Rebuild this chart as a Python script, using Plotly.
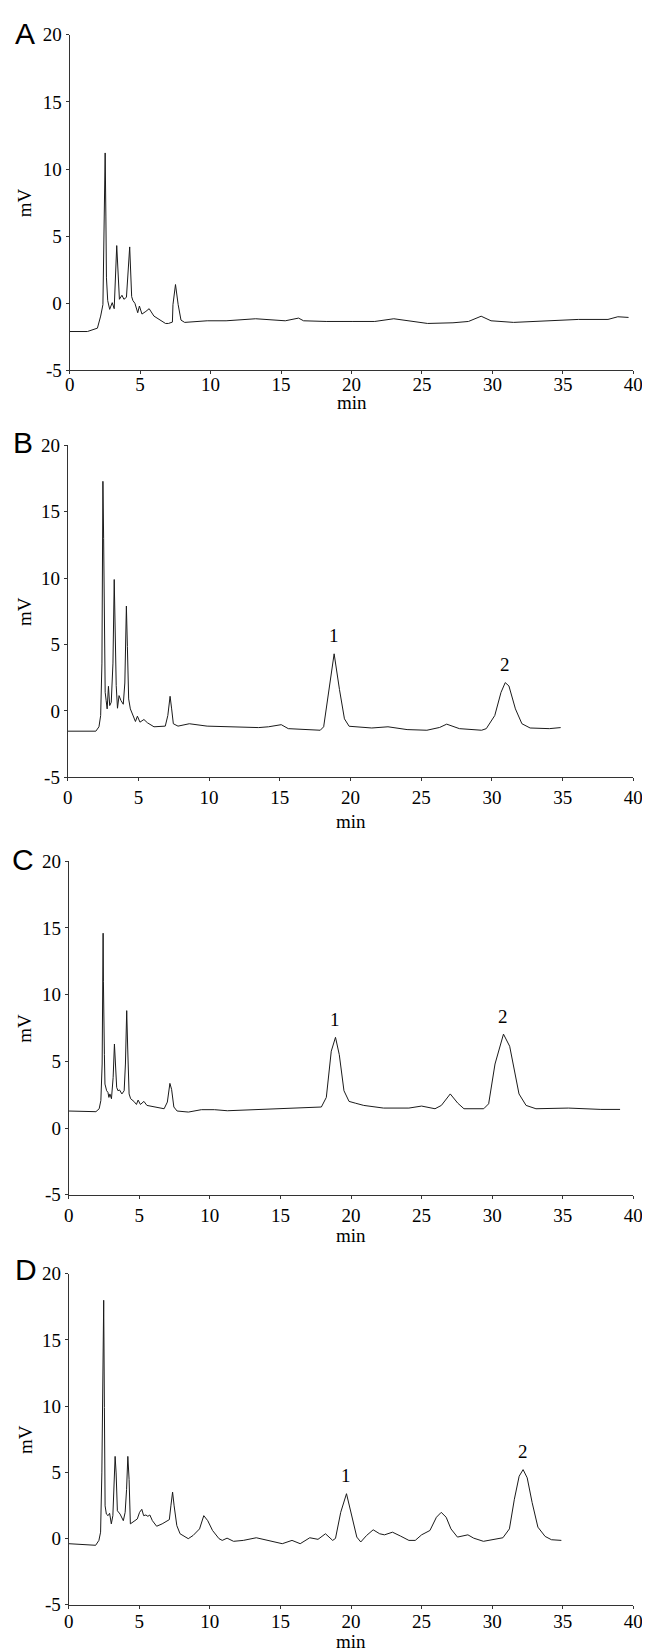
import numpy as np
import plotly.graph_objects as go

# ---------------- data ----------------
# Panel A
time_a = [0.0, 1.26, 1.97, 2.2, 2.36, 2.43, 2.52, 2.57, 2.61, 2.70, 2.84, 3.02, 3.16, 3.34, 3.46, 3.53,
          3.71, 3.85, 4.03, 4.26, 4.40, 4.49, 4.63, 4.83, 4.95, 5.13, 5.41, 5.64, 5.98, 6.32, 6.8, 7.01,
          7.29, 7.33, 7.51, 7.7, 7.9, 8.16, 9.76, 11.1, 13.2, 15.3, 16.24, 16.6, 18.2, 20.1, 21.65, 23.0,
          24.2, 25.4, 27.2, 28.3, 29.2, 29.9, 31.5, 33.8, 36.1, 38.2, 38.9, 39.66]
mv_a = [-2.1, -2.1, -1.85, -0.95, -0.1, 4.0, 11.2, 6.5, 1.9, 0.2, -0.45, 0.05, -0.4, 4.3, 0.9, 0.3,
        0.6, 0.3, 0.45, 4.2, 0.5, 0.2, 0.0, -0.7, -0.2, -0.8, -0.6, -0.4, -0.95, -1.2, -1.5, -1.5,
        -1.4, -0.1, 1.4, -0.1, -1.25, -1.42, -1.3, -1.3, -1.15, -1.3, -1.1, -1.3, -1.35, -1.35, -1.35, -1.15,
        -1.3, -1.5, -1.45, -1.35, -0.96, -1.3, -1.42, -1.3, -1.2, -1.2, -1.0, -1.05]

# Panel B
time_b = [0.0, 1.99, 2.21, 2.33, 2.42, 2.49, 2.54, 2.58, 2.65, 2.72, 2.79, 2.88, 2.97, 3.08, 3.2, 3.29,
          3.35, 3.43, 3.52, 3.63, 3.77, 3.93, 4.04, 4.15, 4.22, 4.31, 4.43, 4.61, 4.79, 4.93, 5.11, 5.39,
          5.64, 6.1, 6.9, 7.08, 7.24, 7.35, 7.47, 7.8, 8.6, 9.86, 11.23, 13.5, 14.2, 15.1, 15.6, 16.9,
          17.86, 18.1, 18.42, 18.84, 19.22, 19.57, 19.9, 21.5, 22.65, 24.0, 25.4, 26.3, 26.8, 27.7,
          29.27, 29.6, 30.2, 30.64, 30.94, 31.2, 31.66, 32.12, 32.7, 34.06, 34.86]
mv_b = [-1.53, -1.53, -1.2, -0.35, 3.6, 17.3, 13.0, 5.6, 1.4, 0.77, 0.15, 1.85, 0.4, 0.65, 3.6, 9.9,
        5.6, 1.9, 0.2, 1.15, 0.77, 0.5, 2.1, 7.9, 4.85, 0.9, 0.15, -0.35, -0.8, -0.4, -0.85, -0.65,
        -0.9, -1.2, -1.15, -0.35, 1.1, 0.15, -0.97, -1.15, -0.97, -1.15, -1.2, -1.26, -1.2, -1.04, -1.34, -1.39,
        -1.46, -1.2, 1.14, 4.3, 1.6, -0.6, -1.16, -1.29, -1.2, -1.41, -1.46, -1.25, -1.0, -1.34,
        -1.46, -1.34, -0.35, 1.39, 2.13, 1.88, 0.15, -0.97, -1.29, -1.34, -1.26]

# Panel C
time_c = [0.0, 1.93, 2.16, 2.28, 2.37, 2.44, 2.46, 2.53, 2.57, 2.69, 2.78, 2.85, 2.92, 3.03, 3.15, 3.24,
          3.31, 3.4, 3.49, 3.6, 3.77, 3.93, 4.02, 4.11, 4.18, 4.28, 4.39, 4.62, 4.8, 4.92, 5.08, 5.33,
          5.54, 6.18, 6.76, 6.99, 7.17, 7.29, 7.45, 7.68, 8.48, 9.4, 10.32, 11.24, 14.7, 17.0, 17.9,
          18.25, 18.6, 18.9, 19.17, 19.5, 19.86, 20.3, 20.9, 22.3, 24.1, 25.0, 25.95, 26.4, 27.03, 27.56,
          28.0, 29.4, 29.75, 30.2, 30.8, 31.24, 31.6, 31.9, 32.4, 33.1, 35.4, 37.7, 39.06]
mv_c = [1.28, 1.23, 1.45, 2.07, 4.8, 14.6, 11.0, 5.5, 3.3, 2.8, 2.68, 2.3, 2.56, 2.2, 3.8, 6.3,
        4.8, 3.05, 2.8, 2.86, 2.56, 2.8, 4.8, 8.8, 6.0, 2.56, 2.2, 2.0, 1.77, 2.1, 1.77, 2.0,
        1.7, 1.58, 1.45, 1.95, 3.35, 2.9, 1.58, 1.28, 1.2, 1.38, 1.38, 1.3, 1.45, 1.53, 1.58,
        2.3, 5.76, 6.8, 5.5, 2.8, 2.0, 1.87, 1.7, 1.5, 1.5, 1.65, 1.45, 1.7, 2.56, 1.87,
        1.45, 1.45, 1.82, 4.8, 7.04, 6.13, 4.3, 2.56, 1.7, 1.45, 1.5, 1.4, 1.4]

# Panel D
time_d = [0.0, 1.91, 2.14, 2.26, 2.35, 2.42, 2.48, 2.53, 2.58, 2.67, 2.79, 2.9, 3.02, 3.13, 3.22, 3.29,
          3.36, 3.45, 3.64, 3.87, 4.0, 4.1, 4.19, 4.28, 4.37, 4.56, 4.86, 5.02, 5.18, 5.31, 5.47, 5.61,
          5.75, 5.93, 6.23, 6.62, 7.13, 7.24, 7.36, 7.47, 7.66, 7.89, 8.12, 8.47, 8.81, 9.27, 9.57, 9.85,
          10.19, 10.65, 10.88, 11.22, 11.68, 12.37, 13.29, 14.2, 15.13, 15.82, 16.4, 17.08, 17.66, 18.19,
          18.7, 18.9, 19.27, 19.68, 20.07, 20.41, 20.69, 21.1, 21.57, 22.03, 22.37, 22.94, 23.52, 24.1,
          24.55, 25.0, 25.59, 26.05, 26.39, 26.74, 27.08, 27.54, 28.28, 28.69, 29.38, 30.76, 31.22, 31.57,
          31.91, 32.19, 32.48, 32.83, 33.24, 33.75, 34.2, 34.9]
mv_d = [-0.4, -0.52, -0.15, 0.47, 4.95, 14.9, 18.0, 9.9, 2.46, 1.84, 1.72, 1.9, 1.1, 1.72, 4.95, 6.2,
        4.95, 2.09, 1.84, 1.34, 1.97, 3.7, 6.2, 4.45, 1.1, 1.22, 1.47, 1.97, 2.2, 1.72, 1.77, 1.67,
        1.77, 1.34, 0.92, 1.1, 1.42, 2.46, 3.5, 2.46, 0.97, 0.35, 0.22, -0.02, 0.22, 0.72, 1.72, 1.34,
        0.6, -0.02, -0.15, 0.02, -0.22, -0.15, 0.05, -0.15, -0.4, -0.15, -0.4, 0.05, -0.07, 0.35,
        -0.15, 0.0, 1.97, 3.38, 1.72, 0.1, -0.27, 0.22, 0.65, 0.35, 0.27, 0.47, 0.17, -0.15,
        -0.15, 0.27, 0.6, 1.6, 1.97, 1.6, 0.72, 0.1, 0.27, 0.02, -0.22, 0.05, 0.72, 2.96,
        4.7, 5.2, 4.58, 2.71, 0.85, 0.15, -0.1, -0.15]

panel_letters = ["A", "B", "C", "D"]
series = [(time_a, mv_a), (time_b, mv_b), (time_c, mv_c), (time_d, mv_d)]
peak_labels = [[], [("1", 18.84), ("2", 30.94)], [("1", 18.9), ("2", 30.8)], [("1", 19.68), ("2", 32.19)]]
x_ticks = [0, 5, 10, 15, 20, 25, 30, 35, 40]
x_tick_text = ["0", "5", "10", "15", "20", "25", "30", "35", "40"]
y_ticks = [-5, 0, 5, 10, 15, 20]
y_tick_text = ["-5", "0", "5", "10", "15", "20"]

# ---------------- layout geometry (pixels) ----------------
W, H = 650, 1651
# (x_left, x_right, y_top, y_bottom) of each plot area in pixels
boxes = [(58, 635, 17, 357), (56, 635, 433, 769), (57, 635, 854, 1192), (57, 635, 1272, 1607)]
letter_pos = [(12, 16), (10, 430), (10, 852), (13, 1268)]
min_y = [389, 814, 1233, 1644]
xlabel_standoff = [-6, 0, 0, -3]

SERIF = "Liberation Serif"
SANS = "Liberation Sans"

fig = go.Figure()
annotations = []
for i, ((t, v), (xl, xr, yt, yb)) in enumerate(zip(series, boxes)):
    n = i + 1
    xa = "x" if n == 1 else f"x{n}"
    ya = "y" if n == 1 else f"y{n}"
    fig.add_trace(go.Scatter(x=t, y=v, mode="lines", line=dict(color="#1a1a1a", width=1),
                             xaxis=xa, yaxis=ya, showlegend=False, hoverinfo="skip"))
    axis_common = dict(showline=True, linecolor="#333333", linewidth=1, showgrid=False, zeroline=False,
                       ticks="outside", ticklen=3, tickwidth=1, tickcolor="#333333",
                       tickfont=dict(family=SERIF, size=19, color="black"))
    fig.update_layout(**{
        ("xaxis" if n == 1 else f"xaxis{n}"): dict(
            domain=[xl / W, xr / W], anchor=ya, range=[0, 40], tickvals=x_ticks, ticktext=x_tick_text,
            ticklabelstandoff=xlabel_standoff[i], **axis_common),
        ("yaxis" if n == 1 else f"yaxis{n}"): dict(
            domain=[1 - yb / H, 1 - yt / H], anchor=xa, range=[-5, 20], tickvals=y_ticks,
            ticktext=y_tick_text, **axis_common),
    })
    # panel letter
    lx, ly = letter_pos[i]
    annotations.append(dict(x=lx / W, y=1 - ly / H, xref="paper", yref="paper", text=panel_letters[i],
                            showarrow=False, font=dict(family=SANS, size=30, color="black"),
                            xanchor="center", yanchor="middle"))
    # axis titles
    annotations.append(dict(x=12 / W, y=1 - (yt + yb) / 2 / H, xref="paper", yref="paper", text="mV",
                            textangle=-90, showarrow=False, font=dict(family=SERIF, size=19, color="black"),
                            xanchor="center", yanchor="middle"))
    annotations.append(dict(x=(xl + xr) / 2 / W, y=1 - min_y[i] / H, xref="paper", yref="paper", text="min",
                            showarrow=False, font=dict(family=SERIF, size=19, color="black"),
                            xanchor="center", yanchor="middle"))
    # peak labels anchored on the peak apex from the data
    ta = np.array(t)
    va = np.array(v)
    for txt, tp in peak_labels[i]:
        sel = np.abs(ta - tp) < 0.8
        k = np.argmax(np.where(sel, va, -np.inf))
        annotations.append(dict(x=float(ta[k]), y=float(va[k]), xref=xa, yref=ya, text=txt, showarrow=False,
                                yshift=18, font=dict(family=SERIF, size=19, color="black"),
                                xanchor="center", yanchor="middle"))

fig.update_layout(width=W, height=H, margin=dict(l=0, r=0, t=0, b=0), plot_bgcolor="white",
                  paper_bgcolor="white", annotations=annotations)
fig.write_html("out.html")
